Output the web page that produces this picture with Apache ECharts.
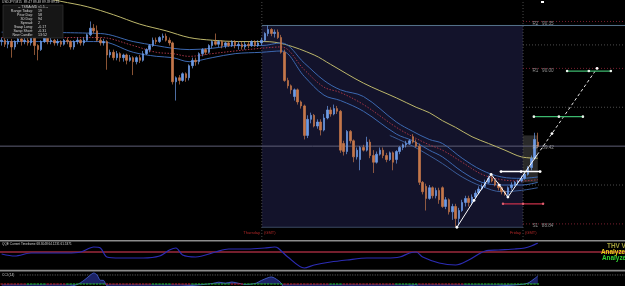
<!DOCTYPE html>
<html><head><meta charset="utf-8">
<script src="https://cdn.jsdelivr.net/npm/echarts@6/dist/echarts.min.js"></script>
<style>html,body{margin:0;padding:0;background:#000;overflow:hidden}#c{width:625px;height:286px}</style>
</head><body><div id="c"></div>
<script>
// ---------- DATA ----------
const slots = 190; // bar slots across the window (M15 bars)
const categories = Array.from({length: slots}, (_, i) => 'bar' + i);
// [open, close, low, high]
const candles = [
[90.20,90.21,90.17,90.23],[90.21,90.18,90.16,90.23],[90.18,90.20,90.15,90.22],[90.20,90.16,90.08,90.22],[90.16,90.20,90.14,90.21],
[90.20,90.22,90.18,90.24],[90.22,90.20,90.17,90.23],[90.20,90.21,90.18,90.23],[90.21,90.19,90.17,90.23],[90.19,90.23,90.17,90.24],
[90.23,90.17,90.10,90.24],[90.17,90.14,90.06,90.18],[90.14,90.20,90.13,90.21],[90.20,90.23,90.19,90.24],[90.23,90.20,90.18,90.24],
[90.20,90.21,90.18,90.23],[90.21,90.19,90.17,90.22],[90.19,90.20,90.17,90.22],[90.20,90.18,90.16,90.21],[90.18,90.21,90.17,90.22],
[90.21,90.20,90.18,90.23],[90.20,90.16,90.14,90.21],[90.16,90.20,90.14,90.21],[90.20,90.21,90.18,90.23],[90.21,90.19,90.17,90.22],
[90.19,90.21,90.17,90.23],[90.21,90.25,90.20,90.26],[90.25,90.30,90.24,90.35],[90.30,90.28,90.26,90.33],[90.28,90.21,90.20,90.32],
[90.21,90.19,90.17,90.23],[90.19,90.20,90.17,90.22],[90.20,90.10,89.99,90.21],[90.10,90.12,90.08,90.14],[90.12,90.08,90.06,90.14],
[90.08,90.11,90.06,90.13],[90.11,90.08,90.05,90.12],[90.08,90.10,90.05,90.11],[90.10,90.06,90.03,90.11],[90.06,90.08,90.05,90.10],
[90.08,90.05,89.95,90.09],[90.05,90.08,90.03,90.09],[90.08,90.06,90.04,90.10],[90.06,90.11,90.05,90.13],[90.11,90.14,90.10,90.15],
[90.14,90.17,90.12,90.18],[90.17,90.21,90.16,90.23],[90.21,90.20,90.18,90.23],[90.20,90.23,90.19,90.24],[90.23,90.24,90.21,90.26],
[90.24,90.21,90.20,90.26],[90.21,90.19,90.17,90.23],[90.19,89.90,89.88,90.20],[89.90,89.93,89.76,89.94],[89.93,89.91,89.88,89.95],
[89.91,89.96,89.90,89.97],[89.96,89.93,89.90,89.97],[89.93,90.02,89.91,90.03],[90.02,90.06,90.00,90.08],[90.06,90.05,90.02,90.08],
[90.05,90.11,90.03,90.12],[90.11,90.14,90.09,90.15],[90.14,90.12,90.10,90.15],[90.12,90.17,90.11,90.18],[90.17,90.20,90.15,90.21],
[90.20,90.18,90.17,90.26],[90.18,90.20,90.16,90.21],[90.20,90.17,90.15,90.21],[90.17,90.19,90.15,90.20],[90.19,90.17,90.16,90.20],
[90.17,90.20,90.16,90.21],[90.20,90.17,90.15,90.21],[90.17,90.18,90.14,90.20],[90.18,90.16,90.14,90.20],[90.16,90.18,90.14,90.20],
[90.18,90.17,90.15,90.20],[90.17,90.20,90.16,90.21],[90.20,90.17,90.16,90.21],[90.17,90.19,90.16,90.21],[90.19,90.21,90.17,90.23],
[90.21,90.26,90.20,90.27],[90.26,90.29,90.24,90.32],[90.29,90.26,90.24,90.30],[90.26,90.27,90.23,90.29],[90.27,90.23,90.22,90.29],
[90.23,90.12,90.11,90.25],[90.12,89.91,89.90,90.14],[89.91,89.87,89.85,89.93],[89.87,89.84,89.81,89.88],[89.79,89.84,89.76,89.85],
[89.84,89.75,89.73,89.85],[89.75,89.72,89.70,89.76],[89.72,89.50,89.47,89.73],[89.50,89.62,89.48,89.65],[89.62,89.65,89.59,89.67],
[89.65,89.57,89.56,89.66],[89.57,89.60,89.55,89.62],[89.60,89.54,89.50,89.62],[89.54,89.63,89.53,89.66],[89.63,89.69,89.62,89.72],
[89.69,89.66,89.64,89.71],[89.66,89.70,89.65,89.73],[89.70,89.68,89.66,89.72],[89.68,89.39,89.37,89.69],[89.44,89.38,89.35,89.46],
[89.38,89.53,89.36,89.54],[89.53,89.46,89.44,89.54],[89.46,89.34,89.30,89.47],[89.34,89.39,89.32,89.41],[89.32,89.41,89.24,89.42],
[89.41,89.39,89.38,89.43],[89.39,89.45,89.38,89.49],[89.45,89.35,89.33,89.47],[89.35,89.30,89.22,89.39],[89.30,89.36,89.29,89.38],
[89.36,89.39,89.35,89.41],[89.39,89.35,89.33,89.41],[89.35,89.32,89.30,89.37],[89.32,89.37,89.31,89.38],[89.37,89.30,89.24,89.38],
[89.32,89.38,89.29,89.39],[89.38,89.41,89.36,89.42],[89.41,89.43,89.39,89.44],[89.43,89.44,89.41,89.46],[89.44,89.46,89.43,89.47],
[89.49,89.45,89.44,89.51],[89.45,89.42,89.41,89.47],[89.42,89.15,89.13,89.44],[89.15,89.08,89.06,89.16],[89.12,89.03,88.94,89.14],
[89.03,89.11,89.02,89.13],[89.11,89.05,89.03,89.12],[89.05,89.09,89.03,89.11],[89.09,89.02,88.99,89.11],[89.11,88.97,88.96,89.12],
[88.97,89.02,88.95,89.04],[89.02,88.93,88.91,89.03],[88.93,88.97,88.87,88.99],[88.97,88.88,88.82,88.99],[88.88,88.94,88.83,88.96],
[88.94,89.00,88.93,89.02],[89.00,89.03,88.97,89.05],[89.03,89.00,88.97,89.05],[89.00,89.04,88.98,89.06],[89.04,89.07,89.03,89.09],
[89.07,89.10,89.06,89.12],[89.10,89.12,89.09,89.14],[89.12,89.15,89.11,89.17],[89.15,89.18,89.14,89.20],[89.18,89.16,89.15,89.21],
[89.16,89.13,89.12,89.17],[89.13,89.11,89.09,89.15],[89.11,89.08,89.06,89.12],[89.08,89.06,89.05,89.09],[89.06,89.11,89.04,89.12],
[89.11,89.13,89.09,89.15],[89.13,89.15,89.12,89.16],[89.15,89.16,89.13,89.17],[89.16,89.18,89.15,89.20],[89.18,89.21,89.17,89.23],
[89.21,89.26,89.20,89.27],[89.26,89.33,89.24,89.35],[89.33,89.47,89.32,89.52],[89.45,89.42,89.41,89.52]
];
// moving averages [barIndex, price]
const maSlow = [[10,90.54],[18,90.50],[26,90.46],[34,90.40],[42,90.33],[50,90.28],[57,90.23],[64,90.21],[72,90.20],[80,90.20],[86,90.18],[95,90.10],[100,90.03],[110,89.89],[120,89.78],[126,89.71],[130,89.67],[134,89.61],[138,89.56],[143,89.49],[148,89.44],[153,89.39],[158,89.34],[163,89.33]];
const bandUpper = [[0,90.27],[30,90.26],[40,90.20],[47,90.17],[52,90.15],[57,90.14],[64,90.15],[71,90.17],[79,90.17],[85,90.19],[92,90.04],[98,89.91],[103,89.84],[110,89.79],[120,89.60],[125,89.53],[130,89.47],[134,89.44],[140,89.33],[146,89.24],[152,89.19],[158,89.18],[163,89.19]];
const bandMid = [[0,90.23],[30,90.23],[40,90.17],[47,90.12],[52,90.11],[57,90.09],[64,90.11],[71,90.13],[79,90.15],[85,90.16],[92,89.99],[98,89.86],[103,89.82],[110,89.73],[120,89.56],[125,89.49],[130,89.43],[134,89.39],[140,89.30],[146,89.21],[152,89.17],[158,89.16],[163,89.17]];
const bandLower = [[0,90.20],[30,90.20],[40,90.12],[47,90.09],[52,90.08],[57,90.05],[64,90.08],[71,90.11],[79,90.12],[85,90.13],[92,89.94],[98,89.80],[103,89.76],[110,89.68],[120,89.51],[125,89.46],[130,89.39],[134,89.34],[140,89.23],[146,89.15],[152,89.13],[158,89.13],[163,89.15]];
const bandLower2 = [[118,89.50],[125,89.42],[130,89.35],[134,89.29],[140,89.19],[146,89.12],[152,89.08],[158,89.09],[163,89.11]];
// pivots
const pivotNames = ['R2','R1','PP','S1'];
const pivotValues = [90.35, 90.00, 89.42, 88.84];
const midPivots = [90.175, 89.71, 89.13];
const dayBreaks = [79.1, 158.5];            // Thursday, Friday (bar positions)
const dayNames = ['Thursday', 'Friday'];
const thursdayBox = [79.1, 158.5, 90.32, 88.815]; // x0, x1, high, low
const thursdayHigh = 90.32;
const currentBox = [158.5, 163.0, 89.50, 89.15];
// zigzag & projection
const zigzag = [[138.4,88.815],[143.6,89.015],[148.8,89.21],[151.3,89.13],[153.9,89.04],[162.8,89.355]];
const projection = [[162.8,89.355],[167.3,89.514],[181.0,90.00]];
const whiteLevel = [[151.8,89.23],[157.9,89.23],[163.7,89.23]];
const redLevel = [[152.4,88.99],[158.5,88.99],[164.6,88.99]];
const greenLevel1 = [[161.8,89.64],[169.4,89.64],[176.7,89.64]];
const greenLevel2 = [[171.9,89.98],[178.5,89.98],[185.2,89.98]];
// QQE panel
const qqe = [[0,46.7],[4,43.3],[9,48.3],[15,48.3],[20,48.3],[24,50],[28,58.3],[30,56.7],[32,41.7],[36,40],[39,40],[43,40],[48,43.3],[51,53.3],[53,56.7],[55,45],[59,41.7],[65,50],[69,55],[75,55],[80,56.7],[83,58.3],[84,56.7],[87,41.7],[92,23.3],[95,28.3],[100,33.3],[105,36.7],[111,40],[117,40],[121,41.7],[124,48.3],[126,50],[128,41.7],[133,31.7],[138,28.3],[142,36.7],[147,51.7],[151,53.3],[156,55],[159,56.7],[161,60],[163,65]];
const qqeLevel = 50;
// CCI panel
const cci = [[0,-60],[10,-40],[20,-30],[23,-5],[25,40],[27,100],[28,122],[29,100],[30,42],[31,40],[32,-20],[40,-80],[50,-40],[60,-10],[64,5],[66,20],[68,10],[70,22],[72,8],[74,-5],[77,5],[79,40],[81,70],[82,78],[83,65],[85,10],[86,-60],[100,-150],[120,-60],[126,-10],[127,-40],[140,-120],[150,-30],[158,-5],[160,10],[162,60],[163,89]];
const cciLevel = 100;
const cciRuns = [['r',8],['g',6],['r',6],['g',12],['r',14],['g',6],['r',6],['g',12],['r',4],['g',12],['r',14],['g',4],['r',16],['g',7],['r',14],['g',23]];
// texts
const headerText = 'USDJPY,M15  89.47 89.48 89.39 89.41';
const infoTitle = '-- TSRAvMD v1.5 --';
const infoLabels = ['Range Today:','Prior Day:','30 Day:','Spread:','Swap Long:','Swap Short:','New Candle:'];
const infoValues = ['19','58','94','2','-0.17','-0.31','13:52'];
const qqeTitle = 'QQE Current Timeframe 68.3048 64.1231 61.5371';
const cciTitle = 'CCI (14)';
const sideTexts = ['THV V4','Analyzer','Analyzer'];

// ---------- CHART ----------
const X0 = -0.5, X1 = slots - 0.5;
const FONT = '"Liberation Sans", Arial, sans-serif';
function ln(data, color, width, type, z, xi, yi, extra) {
  return Object.assign({type:'line', xAxisIndex: xi == null ? 1 : xi, yAxisIndex: yi == null ? 0 : yi,
    data, symbol:'none', silent:true, z, animation:false,
    lineStyle:{color, width, type: type || 'solid'}}, extra || {});
}
function hline(v, x0, x1) { return [[x0, v], [x1, v]]; }
function boxSeries(box, fill) {
  return {type:'custom', xAxisIndex:1, yAxisIndex:0, silent:true, z:0, data:[box],
    encode:{x:[0,1], y:[2,3]},
    renderItem:(params, api) => {
      const a = api.coord([api.value(0), api.value(2)]);
      const b = api.coord([api.value(1), api.value(3)]);
      return {type:'rect', shape:{x:a[0], y:a[1], width:b[0]-a[0], height:b[1]-a[1]}, style:{fill}};
    }};
}
function dotted(data, color, z) {
  return ln(data, color, 1.2, 'solid', z, 1, 0, {symbol:'circle', showSymbol:true, symbolSize:2.6,
    itemStyle:{color:'#e8f4ea'}});
}

const series = [];
series.push(boxSeries(thursdayBox, '#13132b'));
series.push(boxSeries(currentBox, '#2a2a2a'));
// day separators
dayBreaks.forEach(x => series.push(ln([[x, 88.72],[x, 90.51]], '#4a4a4a', 1, [1,2], 1)));
// Thursday range lines
series.push(ln(hline(thursdayHigh, thursdayBox[0], X1), '#56748c', 1, 'solid', 1));
series.push(ln(hline(thursdayBox[3], thursdayBox[0], thursdayBox[1]), '#3a4862', 1, 'solid', 1));
// pivots
pivotValues.forEach((v, k) => {
  if (pivotNames[k] === 'PP') series.push(ln(hline(v, X0, X1), '#5e5e76', 1, 'solid', 1));
  else series.push(ln(hline(v, dayBreaks[1], X1), '#7a2030', 1, [1,2], 1));
});
midPivots.forEach(v => series.push(ln(hline(v, dayBreaks[1], X1), '#4e4e4e', 1, [1,2], 1)));
// moving averages
series.push(ln(maSlow, '#bdb76b', 1, 'solid', 2, 1, 0, {smooth:0.35}));
series.push(ln(bandUpper, '#3c68b0', 1, 'solid', 2, 1, 0, {smooth:0.35}));
series.push(ln(bandMid, '#a23446', 1, [1.5,1.5], 2, 1, 0, {smooth:0.35}));
series.push(ln(bandLower, '#3c68b0', 1, 'solid', 2, 1, 0, {smooth:0.35}));
series.push(ln(bandLower2, '#3a5c98', 1, 'solid', 2, 1, 0, {smooth:0.35}));
// candles
series.push({type:'candlestick', xAxisIndex:0, yAxisIndex:0, data:candles, z:3, silent:true,
  barWidth:2, animation:false,
  itemStyle:{color:'#6e9ce6', color0:'#c4774a', borderColor:'#6e9ce6', borderColor0:'#c4774a', borderWidth:0.7}});
// zigzag + projection
series.push(ln(zigzag.map((p, k) => k === zigzag.length - 1 ? {value:p, symbol:'none'} : {value:p}),
  '#ffffff', 1, 'solid', 5, 1, 0, {symbol:'circle', showSymbol:true, symbolSize:2.8, itemStyle:{color:'#ffffff'}}));
series.push(ln(projection.map((p, k) => k === 0 ? {value:p, symbol:'none'} : {value:p}),
  '#e6e6e6', 1, [3,2.5], 5, 1, 0, {symbol:'circle', showSymbol:true, symbolSize:2.8, itemStyle:{color:'#ffffff'}}));
series.push(ln(whiteLevel, '#ffffff', 1.5, 'solid', 5, 1, 0, {symbol:'circle', showSymbol:true, symbolSize:2.8, itemStyle:{color:'#ffffff'}}));
series.push(ln(redLevel, '#c8304a', 1.3, 'solid', 5, 1, 0, {symbol:'circle', showSymbol:true, symbolSize:2.4, itemStyle:{color:'#e06070'}}));
series.push(dotted(greenLevel1, '#3cb86e', 5));
series.push(dotted(greenLevel2, '#3cb86e', 5));
// pivot labels
series.push({type:'scatter', xAxisIndex:1, yAxisIndex:0, z:6, silent:true, symbolSize:1,
  itemStyle:{color:'rgba(0,0,0,0)'},
  data: pivotValues.map((v, k) => ({value:[161.2, v], name:pivotNames[k]})),
  label:{show:true, position:'right', distance:0, offset:[0,2], color:'#b4b4b4', fontSize:4.6, fontFamily:FONT,
    formatter: p => p.name + '   ' + p.value[1].toFixed(2)}});
// QQE
series.push(ln(hline(qqeLevel, X0, X1), '#9c2a3c', 1.3, 'solid', 2, 2, 1));
series.push(ln(qqe, '#2c2cb4', 1.2, 'solid', 3, 2, 1, {smooth:0.3}));
// CCI
series.push(ln(hline(cciLevel, 5.5, X1), '#6a6a6a', 1, [1,1.5], 2, 3, 2));
series.push(ln(cci, '#4a66d8', 0.8, 'solid', 3, 3, 2, {smooth:0.3, areaStyle:{color:'#1b2266', opacity:1}}));
const dashData = [];
let idx = 0;
cciRuns.forEach(([c, n]) => { for (let k = 0; k < n; k++) { dashData.push({value:[idx, 0], itemStyle:{color: c === 'r' ? '#c82a2a' : '#2ec42e'}}); idx++; } });
series.push({type:'scatter', xAxisIndex:3, yAxisIndex:2, z:4, silent:true, symbol:'rect', symbolSize:[2.4,1.3], data:dashData, animation:false});

// graphics
const graphic = [
  {type:'rect', shape:{x:0, y:240, width:625, height:1.4}, style:{fill:'#8c8c8c'}, z:100},
  {type:'rect', shape:{x:0, y:269.8, width:625, height:1.6}, style:{fill:'#8c8c8c'}, z:100},
  {type:'rect', shape:{x:3, y:5, width:60, height:33}, style:{fill:'#161616', stroke:'#3c3c3c', lineWidth:0.6}, z:100},
  {type:'rect', shape:{x:541, y:1, width:3, height:2}, style:{fill:'#ffffff'}, z:100},
  {type:'text', z:101, style:{text:headerText, x:2, y:2.3, fill:'#d0d0d0', fontSize:3.3, fontFamily:FONT, verticalAlign:'middle'}},
  {type:'text', z:101, style:{text:infoTitle, x:33, y:7.3, fill:'#d0d0d0', fontSize:3.4, fontFamily:FONT, align:'center', verticalAlign:'middle'}},
  {type:'text', z:101, style:{text:qqeTitle, x:2, y:244.3, fill:'#d0d0d0', fontSize:3.1, fontFamily:FONT, verticalAlign:'middle'}},
  {type:'text', z:101, style:{text:cciTitle, x:2, y:274.6, fill:'#d0d0d0', fontSize:3.3, fontFamily:FONT, verticalAlign:'middle'}},
];
infoLabels.forEach((t, k) => {
  graphic.push({type:'text', z:101, style:{text:t, x:33, y:11.3 + k*4, fill:'#d8d8d8', fontSize:3.6, fontFamily:FONT, align:'right', verticalAlign:'middle'}});
  graphic.push({type:'text', z:101, style:{text:infoValues[k], x:38, y:11.3 + k*4, fill:'#d8d8d8', fontSize:3.6, fontFamily:FONT, verticalAlign:'middle'}});
});
const dayX = [262, 523];
dayNames.forEach((d, k) => {
  graphic.push({type:'text', z:101, style:{text:d, x:dayX[k]-2, y:232.5, fill:'#b42828', fontSize:4, fontFamily:FONT, align:'right', verticalAlign:'middle'}});
  graphic.push({type:'text', z:101, style:{text:'(GMT)', x:dayX[k]+2, y:232.5, fill:'#b42828', fontSize:4, fontFamily:FONT, verticalAlign:'middle'}});
});
const sideColors = ['#a6a23c', '#f2d21a', '#33d433'];
const sideX = [607, 601, 602];
sideTexts.forEach((t, k) => graphic.push({type:'text', z:101, style:{text:t, x:sideX[k], y:246.5 + k*6, fill:sideColors[k], fontSize:6.4, fontWeight:'bold', fontFamily:FONT, verticalAlign:'middle'}}));

const chart = echarts.init(document.getElementById('c'), null, {renderer:'canvas', width:625, height:286});
chart.setOption({
  backgroundColor:'#000000',
  animation:false,
  grid:[
    {left:0, right:0, top:0, height:240},
    {left:0, right:0, top:243, height:27},
    {left:0, right:0, top:272, height:14}
  ],
  xAxis:[
    {type:'category', gridIndex:0, data:categories, boundaryGap:true, show:false},
    {type:'value', gridIndex:0, min:X0, max:X1, show:false},
    {type:'value', gridIndex:1, min:X0, max:X1, show:false},
    {type:'value', gridIndex:2, min:X0, max:X1, show:false}
  ],
  yAxis:[
    {type:'value', gridIndex:0, min:88.72, max:90.51, show:false},
    {type:'value', gridIndex:1, min:20, max:65, show:false},
    {type:'value', gridIndex:2, min:-22, max:133, show:false}
  ],
  series,
  graphic
});
</script></body></html>
